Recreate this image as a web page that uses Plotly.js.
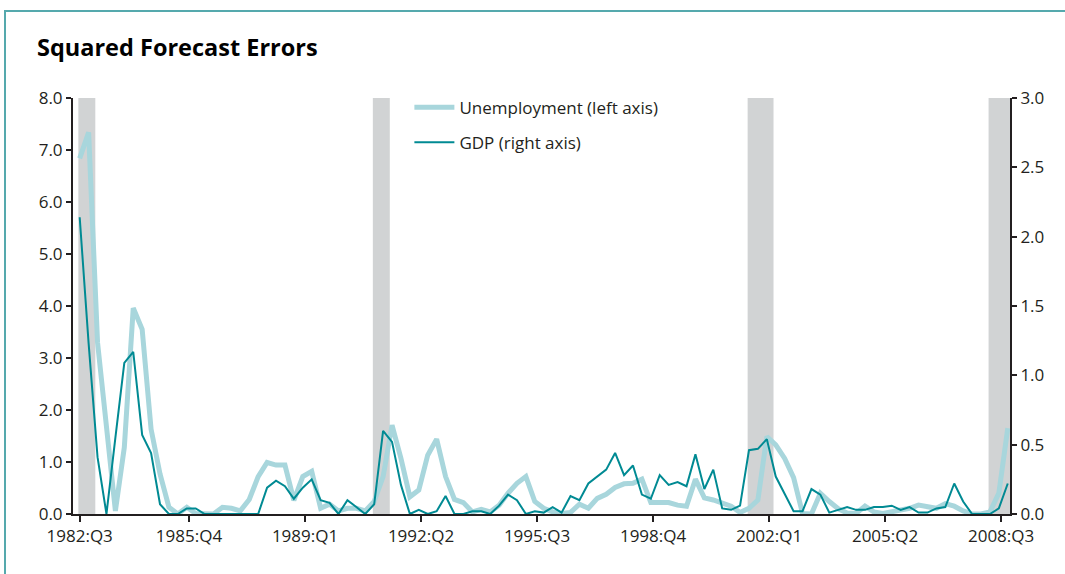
<!DOCTYPE html>
<html>
<head>
<meta charset="utf-8">
<script src="https://cdn.plot.ly/plotly-3.0.1.min.js"></script>
<style>
  html, body { margin: 0; padding: 0; background: #ffffff; }
  #wrap { position: relative; width: 1065px; height: 574px; overflow: hidden; }
  #chart { position: absolute; left: 0; top: 0; width: 1065px; height: 574px; }
  #frame { position: absolute; left: 4px; top: 10px; width: 1100px; height: 600px;
           border-top: 2px solid #55a9ad; border-left: 2px solid #55a9ad; pointer-events: none; }
</style>
</head>
<body>
<div id="wrap"><div id="chart"></div><div id="frame"></div></div>
<script>
// Quarters 1982:Q3 .. 2008:Q3
const startYear = 1982, startQ = 3, nQuarters = 105;
const quarterLabels = [];
for (let k = 0; k < nQuarters; k++) {
  const t = (startQ - 1) + k;
  quarterLabels.push((startYear + Math.floor(t / 4)) + ':Q' + ((t % 4) + 1));
}

// Squared forecast errors, unemployment (left axis)
const unemployment = [
  6.84, 7.34, 3.30, 1.66, 0.06, 1.28, 3.96, 3.55, 1.63, 0.77,
  0.13, 0.00, 0.13, 0.01, 0.00, 0.00, 0.13, 0.11, 0.06, 0.28,
  0.72, 0.99, 0.94, 0.94, 0.26, 0.72, 0.82, 0.11, 0.19, 0.06,
  0.11, 0.11, 0.06, 0.24, 0.72, 1.71, 1.07, 0.33, 0.46, 1.13,
  1.44, 0.72, 0.28, 0.22, 0.04, 0.09, 0.04, 0.17, 0.40, 0.59,
  0.72, 0.24, 0.11, 0.04, 0.01, 0.03, 0.19, 0.11, 0.30, 0.38,
  0.51, 0.58, 0.59, 0.67, 0.22, 0.22, 0.22, 0.17, 0.15, 0.67,
  0.31, 0.27, 0.22, 0.15, 0.03, 0.11, 0.27, 1.49, 1.33, 1.07,
  0.70, 0.01, 0.00, 0.40, 0.24, 0.10, 0.02, 0.01, 0.15, 0.04,
  0.01, 0.04, 0.09, 0.11, 0.17, 0.15, 0.11, 0.20, 0.15, 0.06,
  0.00, 0.00, 0.04, 0.40, 1.65
];

// Squared forecast errors, GDP (right axis)
const gdp = [
  2.14, 1.23, 0.41, 0.00, 0.55, 1.09, 1.17, 0.57, 0.44, 0.07,
  0.00, 0.00, 0.04, 0.04, 0.00, 0.00, 0.00, 0.00, 0.00, 0.00,
  0.00, 0.19, 0.24, 0.20, 0.11, 0.19, 0.25, 0.10, 0.08, 0.00,
  0.10, 0.05, 0.00, 0.07, 0.60, 0.52, 0.21, 0.00, 0.03, 0.00,
  0.02, 0.13, 0.00, 0.00, 0.02, 0.02, 0.00, 0.06, 0.14, 0.10,
  0.00, 0.02, 0.01, 0.05, 0.01, 0.13, 0.10, 0.22, 0.27, 0.32,
  0.44, 0.28, 0.35, 0.14, 0.11, 0.28, 0.21, 0.23, 0.20, 0.43,
  0.18, 0.32, 0.04, 0.03, 0.06, 0.46, 0.47, 0.54, 0.27, 0.15,
  0.02, 0.02, 0.18, 0.14, 0.01, 0.03, 0.05, 0.03, 0.03, 0.05,
  0.05, 0.06, 0.03, 0.05, 0.01, 0.01, 0.04, 0.05, 0.22, 0.09,
  0.00, 0.00, 0.00, 0.04, 0.22
];

// Tick labels every 13 quarters
const tickLabels = ['1982:Q3','1985:Q4','1989:Q1','1992:Q2','1995:Q3','1998:Q4','2002:Q1','2005:Q2','2008:Q3'];

// Recession periods (first and last quarter)
const recessionStart = ['1982:Q3', '1990:Q4', '2001:Q2', '2008:Q1'];
const recessionEnd   = ['1982:Q4', '1991:Q1', '2001:Q4', '2008:Q3'];

const POINT_OFFSET = 0.75;
const xPos = quarterLabels.map((_, i) => i + POINT_OFFSET);
const tickVals = tickLabels.map((l, k) => quarterLabels.indexOf(l) + (k === 0 ? POINT_OFFSET : 0));

const shapes = recessionStart.map((s, k) => ({
  type: 'rect', xref: 'x', yref: 'paper', layer: 'below',
  x0: quarterLabels.indexOf(s) + 0.6,
  x1: Math.min(quarterLabels.indexOf(recessionEnd[k]) + 1.5, nQuarters),
  y0: 0, y1: 1, line: { width: 0 }, fillcolor: '#d1d3d4'
}));

const font = { family: 'Open Sans, sans-serif', size: 17, color: '#231f20' };

const traces = [
  {
    x: xPos, y: unemployment, type: 'scatter', mode: 'lines',
    name: 'Unemployment (left axis)', legendgroup: 'u',
    line: { color: '#a8d6dc', width: 5 }, yaxis: 'y', hoverinfo: 'skip'
  },
  {
    x: xPos, y: gdp, type: 'scatter', mode: 'lines',
    name: 'GDP (right axis)', legendgroup: 'g',
    line: { color: '#008a93', width: 2 }, yaxis: 'y2', hoverinfo: 'skip'
  }
];

const layout = {
  width: 1065, height: 574,
  margin: { l: 73, r: 55, t: 98, b: 60 },
  paper_bgcolor: '#ffffff', plot_bgcolor: '#ffffff',
  font: font,
  title: {
    text: '<b>Squared Forecast Errors</b>',
    x: 37 / 1065, xanchor: 'left', y: 1 - 48 / 574, yanchor: 'middle',
    font: { family: 'Open Sans, sans-serif', size: 23.5, color: '#000000' }
  },
  showlegend: true,
  legend: {
    x: 0.359, y: 1.02, xanchor: 'left', yanchor: 'top',
    bgcolor: 'rgba(0,0,0,0)', font: font, itemwidth: 40,
    traceorder: 'grouped', tracegroupgap: 10
  },
  xaxis: {
    range: [0, nQuarters], showgrid: false, zeroline: false,
    showline: true, linecolor: '#231f20', linewidth: 2,
    ticks: 'outside', ticklen: 6, tickwidth: 2, tickcolor: '#231f20',
    tickvals: tickVals, ticktext: tickLabels, tickfont: font, fixedrange: true
  },
  yaxis: {
    range: [0, 8], dtick: 1, tickformat: '.1f', showgrid: false, zeroline: false,
    showline: true, linecolor: '#231f20', linewidth: 2,
    ticks: 'outside', ticklen: 5, tickwidth: 2, tickcolor: '#231f20',
    tickfont: font, fixedrange: true
  },
  yaxis2: {
    range: [0, 3], dtick: 0.5, tickformat: '.1f', overlaying: 'y', side: 'right',
    showgrid: false, zeroline: false,
    showline: true, linecolor: '#231f20', linewidth: 2,
    ticks: 'outside', ticklen: 5, tickwidth: 2, tickcolor: '#231f20',
    tickfont: font, fixedrange: true
  },
  shapes: shapes
};

Plotly.newPlot('chart', traces, layout, { staticPlot: true, displayModeBar: false });
</script>
</body>
</html>
